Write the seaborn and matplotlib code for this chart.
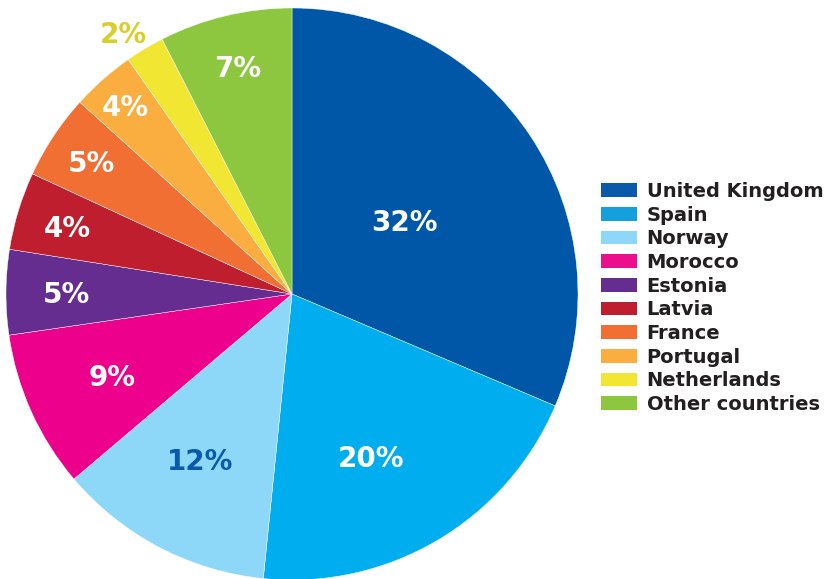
import numpy as np
import seaborn as sns
import matplotlib.pyplot as plt
from matplotlib.patches import Patch

countries = ['United Kingdom', 'Spain', 'Norway', 'Morocco', 'Estonia',
             'Latvia', 'France', 'Portugal', 'Netherlands', 'Other countries']
shares = [31.4, 20.2, 12.2, 8.9, 4.8, 4.4, 4.8, 3.6, 2.2, 7.5]
labels = [32, 20, 12, 9, 5, 4, 5, 4, 2, 7]
colors = ['#0057A8', '#00AEEF', '#8DD8F8', '#EC008C', '#662D91',
          '#BE1E2D', '#F26F33', '#FBAE40', '#F1E632', '#8DC63F']
legend_colors = ['#0A5AAB', '#15A0DC', '#8DD8F8', '#EC0F8C', '#662D91',
                 '#BE1E2D', '#F26F33', '#FBAE40', '#F1E632', '#8DC63F']
label_colors = ['white', 'white', '#0A5AAB', 'white', 'white',
                'white', 'white', 'white', '#D9CF2B', 'white']
label_radius = [0.47, 0.63, 0.66, 0.69, 0.79, 0.82, 0.84, 0.88, 1.09, 0.82]
label_turn = [0, -4.5, -1.5, 0, 0, 0, 0, 0, 1.8, 0]  # degrees, counter-clockwise

sns.set_theme(style='white')
plt.rcParams['font.family'] = ['DejaVu Sans']

fig = plt.figure(figsize=(8.3, 5.79), dpi=100)
ax = fig.add_axes([6 / 830, -1 / 579, 572 / 830, 572 / 579])

wedges, _ = ax.pie(shares, colors=colors, startangle=90, counterclock=False,
                   radius=1, wedgeprops=dict(edgecolor='white', linewidth=0.3))

for w, pct, c, r, t in zip(wedges, labels, label_colors, label_radius, label_turn):
    mid = np.deg2rad((w.theta1 + w.theta2) / 2 + t)
    ax.text(r * np.cos(mid), r * np.sin(mid) - 0.01, f'{pct}%', color=c,
            fontsize=20, fontweight='bold', ha='center', va='center')

ax.set_xlim(-1, 1)
ax.set_ylim(-1, 1)
ax.set_aspect('equal')
ax.axis('off')

handles = [Patch(facecolor=c, edgecolor='none') for c in legend_colors]
leg = fig.legend(handles, countries, loc='upper left',
                 bbox_to_anchor=(601 / 830, 1 - 182 / 579),
                 frameon=False, fontsize=14, handlelength=1.85,
                 handleheight=0.72, handletextpad=0.5, labelspacing=0.24,
                 borderpad=0, borderaxespad=0)
for t in leg.get_texts():
    t.set_fontweight('bold')
    t.set_color('#231F20')

fig.savefig('out.png', dpi=100)
